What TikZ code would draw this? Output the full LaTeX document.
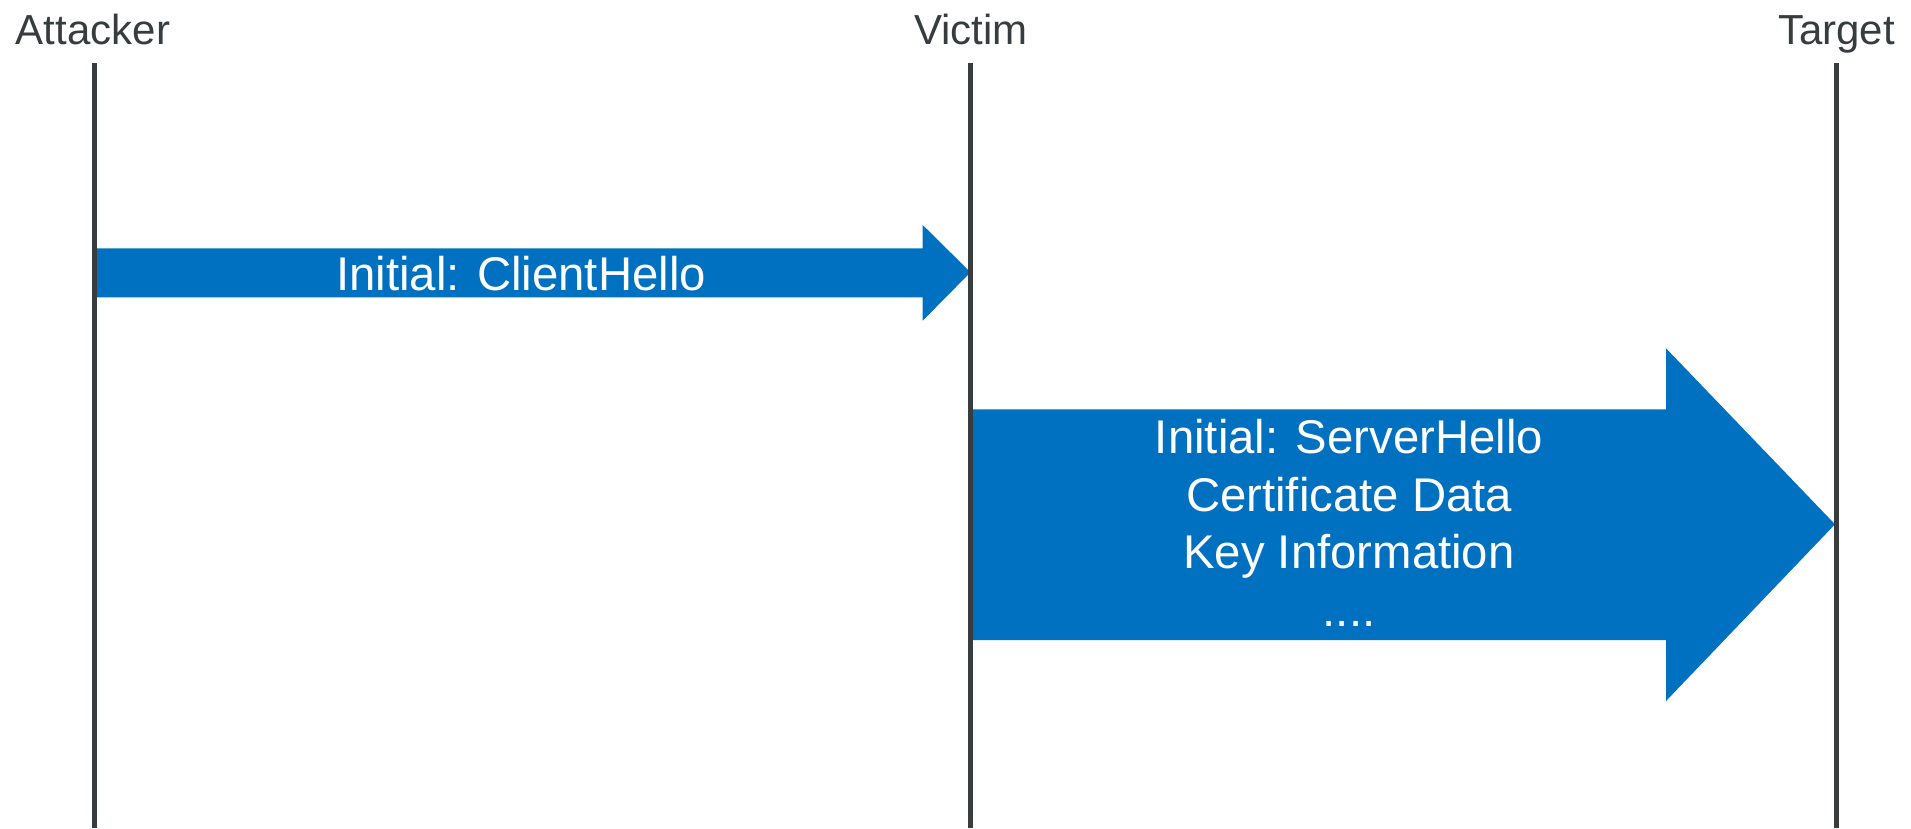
\documentclass[tikz,border=0pt]{standalone}
\usepackage{fontspec}
\setmainfont{Liberation Sans}
\definecolor{lifegray}{RGB}{55,61,63}
\definecolor{msgblue}{RGB}{0,112,192}
\begin{document}
\begin{tikzpicture}[x=1pt,y=-1pt,
  actor/.style={text=lifegray,font=\fontsize{42}{50}\selectfont,anchor=base,inner sep=0pt},
  lifeline/.style={draw=lifegray,line width=5pt},
  msgbody/.style={fill=msgblue},
  msgtext/.style={text=white,font=\fontsize{47.3}{57.5}\selectfont,inner sep=0pt,align=center}]
\useasboundingbox (0,0) rectangle (1911,828);

% participants
\node[actor] (attacker) at (93,44) {Attacker};
\node[actor] (victim) at (971,44) {Victim};
\node[actor] (target) at (1836.5,44) {Target};

% lifeline end points
\coordinate (aTop) at (94,63);   \coordinate (aBot) at (94,828);
\coordinate (vTop) at (970.5,63); \coordinate (vBot) at (970.5,828);
\coordinate (tTop) at (1836,63); \coordinate (tBot) at (1836,828);

% message 1: attacker to victim
\fill[msgbody] (94,248.3) -- (922.7,248.3) -- (922.7,225) -- (970.5,272.3)
  -- (922.7,320.7) -- (922.7,297.3) -- (94,297.3) -- cycle;
\node[msgtext,anchor=base] (m1) at (521,290.5) {Initial: ClientHello};

% message 2: victim to target
\fill[msgbody] (970.5,409.3) -- (1666,409.3) -- (1666,348.3) -- (1835,524.3)
  -- (1666,701) -- (1666,640) -- (970.5,640) -- cycle;
\node[msgtext] (m2) at (1349,523) {Initial: ServerHello\\Certificate Data\\Key Information\\....};

% lifelines drawn over the message arrows
\draw[lifeline] (aTop) -- (aBot);
\draw[lifeline] (vTop) -- (vBot);
\draw[lifeline] (tTop) -- (tBot);
\end{tikzpicture}
\end{document}
